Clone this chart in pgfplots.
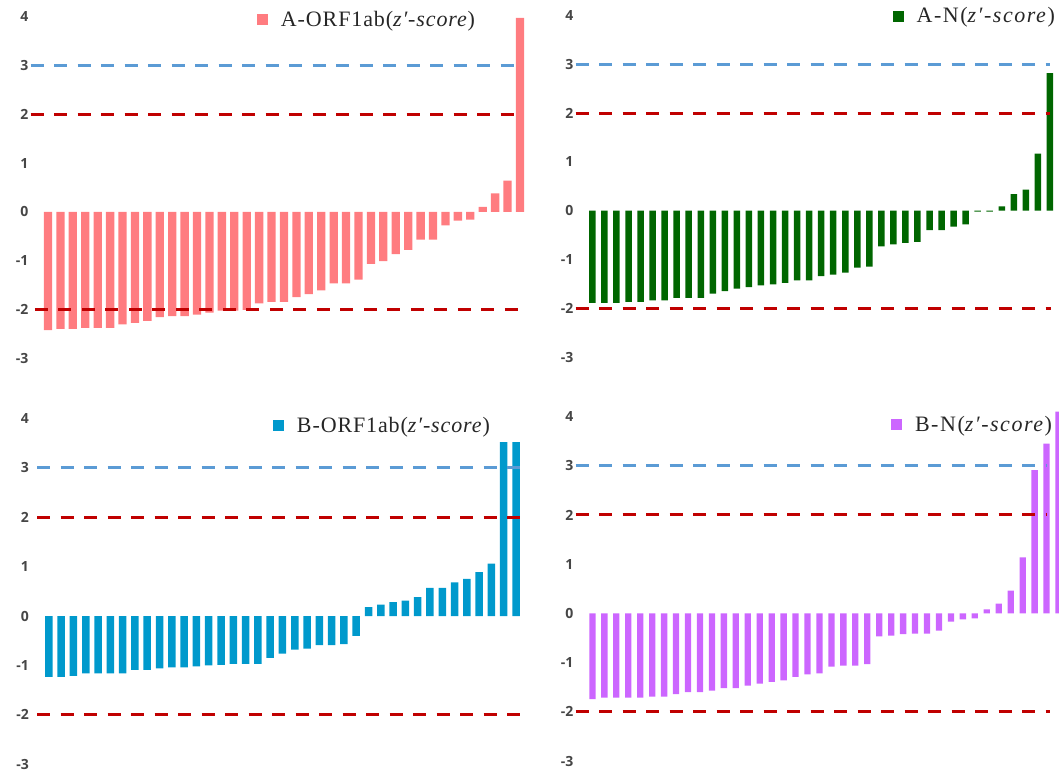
\documentclass[border=0pt]{standalone}
\usepackage{pgfplots}
\pgfplotsset{compat=1.18}
\usepackage{fontspec}
\setmainfont{Liberation Serif}[LetterSpace=4]
\newfontfamily\legwide{Liberation Serif}[LetterSpace=7]
\newfontfamily\tickfont{Open Sans}
\definecolor{pinkbar}{RGB}{255,124,128}
\definecolor{greenbar}{RGB}{0,102,0}
\definecolor{bluebar}{RGB}{0,153,204}
\definecolor{purplebar}{RGB}{204,102,255}
\definecolor{refblue}{RGB}{91,155,213}
\definecolor{refred}{RGB}{192,0,0}
\definecolor{tickgray}{RGB}{70,70,70}
\pgfplotsset{
  panel/.style={scale only axis, anchor=north west,
    axis line style={draw=none}, major tick length=0pt, tick style={draw=none},
    xtick=\empty, ymin=-3, ymax=4, ytick={-3,-2,-1,0,1,2,3,4},
    yticklabels={-3,-2,-1,0,1,2,3,4},
    yticklabel style={font=\tickfont\bfseries\fontsize{14}{14}\selectfont, text=tickgray, inner sep=2pt},
    clip=false,
    legend image code/.code={\fill[##1] (0pt,-5.5pt) rectangle (11pt,5.5pt);},
    legend style={draw=none, fill=none, anchor=west, inner sep=0pt, outer sep=0pt,
      font=\fontsize{22}{24}\selectfont, text=black!85, nodes={inner sep=0pt}, column sep=13pt}},
  refb/.style={forget plot, draw=refblue, line width=3pt, dash pattern=on 13pt off 10.5pt},
  refr/.style={forget plot, draw=refred, line width=3pt, dash pattern=on 13pt off 10.5pt},
}
\begin{document}
\begin{tikzpicture}
\useasboundingbox (0pt,0pt) rectangle (1059pt,-771pt);
% ---------- A-ORF1ab ----------
\begin{axis}[panel, at={(30.5pt,-17pt)}, width=493pt, height=341pt,
  xmin=-0.409, xmax=39.285, legend style={at={(0.4594,0.9927)}}]
\addplot[ybar, bar width=8.3pt, fill=pinkbar, draw=none] table[row sep=\\] {
x y\\ 1 -2.43\\ 2 -2.40\\ 3 -2.40\\ 4 -2.38\\ 5 -2.38\\ 6 -2.38\\ 7 -2.31\\ 8 -2.28\\
9 -2.24\\ 10 -2.16\\ 11 -2.14\\ 12 -2.14\\ 13 -2.11\\ 14 -2.07\\ 15 -2.03\\ 16 -2.03\\
17 -2.01\\ 18 -1.88\\ 19 -1.85\\ 20 -1.85\\ 21 -1.75\\ 22 -1.69\\ 23 -1.61\\ 24 -1.47\\
25 -1.47\\ 26 -1.39\\ 27 -1.07\\ 28 -1.01\\ 29 -0.87\\ 30 -0.78\\ 31 -0.57\\ 32 -0.57\\
33 -0.28\\ 34 -0.18\\ 35 -0.16\\ 36 0.10\\ 37 0.38\\ 38 0.64\\ 39 3.98\\};
\addlegendentry{A-ORF1ab(\textit{z′-score})}
\addplot[refb] coordinates {(-0.409,3) (39.285,3)};
\addplot[refr] coordinates {(-0.409,2) (39.285,2)};
\addplot[refr] coordinates {(-0.05,-2) (39.0,-2)};
\end{axis}
% ---------- A-N ----------
\begin{axis}[panel, at={(575.5pt,-15.5pt)}, width=474.5pt, height=341.5pt,
  xmin=-0.404, xmax=39.007, legend style={at={(0.6683,0.9985)}, font=\legwide\fontsize{22}{24}\selectfont}]
\addplot[ybar, bar width=6.5pt, fill=greenbar, draw=none] table[row sep=\\] {
x y\\ 1 -1.89\\ 2 -1.89\\ 3 -1.89\\ 4 -1.87\\ 5 -1.87\\ 6 -1.84\\ 7 -1.84\\ 8 -1.79\\
9 -1.79\\ 10 -1.79\\ 11 -1.70\\ 12 -1.65\\ 13 -1.60\\ 14 -1.57\\ 15 -1.53\\ 16 -1.51\\
17 -1.48\\ 18 -1.43\\ 19 -1.43\\ 20 -1.34\\ 21 -1.31\\ 22 -1.27\\ 23 -1.17\\ 24 -1.15\\
25 -0.73\\ 26 -0.69\\ 27 -0.66\\ 28 -0.64\\ 29 -0.40\\ 30 -0.40\\ 31 -0.33\\ 32 -0.28\\
33 -0.02\\ 34 -0.02\\ 35 0.09\\ 36 0.34\\ 37 0.43\\ 38 1.17\\ 39 2.82\\};
\addlegendentry{A-N(\textit{z′-score})}
\addplot[refb] coordinates {(-0.404,3) (39.007,3)};
\addplot[refr] coordinates {(-0.404,2) (39.007,2)};
\addplot[refr] coordinates {(-0.404,-2) (39.1,-2)};
\end{axis}
% ---------- B-ORF1ab ----------
\begin{axis}[panel, at={(37pt,-418.4pt)}, width=488pt, height=345.8pt,
  xmin=0.032, xmax=39.73, legend style={at={(0.4836,0.9795)}},
  yticklabel style={xshift=-6pt}]
\addplot[ybar, bar width=7.5pt, fill=bluebar, draw=none] table[row sep=\\] {
x y\\ 1 -1.23\\ 2 -1.23\\ 3 -1.21\\ 4 -1.16\\ 5 -1.16\\ 6 -1.16\\ 7 -1.16\\ 8 -1.09\\
9 -1.09\\ 10 -1.06\\ 11 -1.04\\ 12 -1.04\\ 13 -1.02\\ 14 -1.00\\ 15 -0.99\\ 16 -0.97\\
17 -0.97\\ 18 -0.97\\ 19 -0.85\\ 20 -0.76\\ 21 -0.68\\ 22 -0.66\\ 23 -0.59\\ 24 -0.59\\
25 -0.57\\ 26 -0.40\\ 27 0.18\\ 28 0.23\\ 29 0.28\\ 30 0.31\\ 31 0.38\\ 32 0.57\\
33 0.57\\ 34 0.68\\ 35 0.75\\ 36 0.89\\ 37 1.06\\ 38 3.52\\ 39 3.52\\};
\addlegendentry{B-ORF1ab(\textit{z′-score})}
\addplot[refb] coordinates {(0.032,3) (39.73,3)};
\addplot[refr] coordinates {(0.032,2) (39.73,2)};
\addplot[refr] coordinates {(0.032,-2) (39.73,-2)};
\end{axis}
% ---------- B-N ----------
\begin{axis}[panel, at={(575.5pt,-416.5pt)}, width=474.5pt, height=344.5pt,
  xmin=-0.414, xmax=39.29, legend style={at={(0.6649,0.9768)}, font=\legwide\fontsize{22}{24}\selectfont}]
\addplot[ybar, bar width=6.3pt, fill=purplebar, draw=none] table[row sep=\\] {
x y\\ 1 -1.74\\ 2 -1.71\\ 3 -1.71\\ 4 -1.71\\ 5 -1.71\\ 6 -1.69\\ 7 -1.69\\ 8 -1.64\\
9 -1.60\\ 10 -1.60\\ 11 -1.57\\ 12 -1.52\\ 13 -1.52\\ 14 -1.47\\ 15 -1.43\\ 16 -1.39\\
17 -1.36\\ 18 -1.29\\ 19 -1.24\\ 20 -1.22\\ 21 -1.08\\ 22 -1.06\\ 23 -1.06\\ 24 -1.03\\
25 -0.47\\ 26 -0.45\\ 27 -0.42\\ 28 -0.41\\ 29 -0.41\\ 30 -0.35\\ 31 -0.17\\ 32 -0.12\\
33 -0.10\\ 34 0.08\\ 35 0.20\\ 36 0.46\\ 37 1.14\\ 38 2.91\\ 39 3.45\\ 40 4.10\\};
\addlegendentry{B-N(\textit{z′-score})}
\addplot[refb] coordinates {(-0.414,3) (39.0,3)};
\addplot[refr] coordinates {(-0.414,2) (39.0,2)};
\addplot[refr] coordinates {(-0.414,-2) (39.3,-2)};
\end{axis}
\end{tikzpicture}
\end{document}
